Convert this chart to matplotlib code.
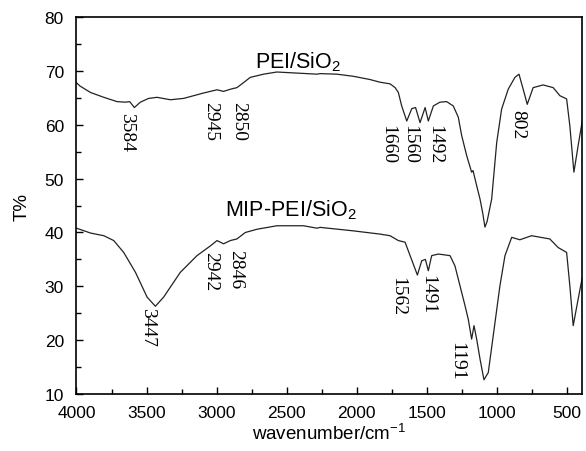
import matplotlib
matplotlib.use("Agg")
import matplotlib.pyplot as plt
from matplotlib.ticker import MultipleLocator

plt.rcParams['font.family'] = ['Liberation Sans', 'DejaVu Sans']
plt.rcParams['mathtext.fontset'] = 'custom'
plt.rcParams['mathtext.rm'] = 'Liberation Sans'
plt.rcParams['mathtext.default'] = 'regular'

# PEI/SiO2 spectrum
pei_wn = [4000, 3975, 3950, 3900, 3805, 3710, 3651, 3620, 3587, 3544, 3485, 3425,
          3330, 3235, 3093, 2997, 2950, 2902, 2855, 2819, 2760, 2665, 2570, 2427,
          2284, 2261, 2142, 2023, 1905, 1833, 1762, 1726, 1703, 1679, 1643, 1607,
          1580, 1548, 1512, 1489, 1453, 1406, 1358, 1311, 1275, 1251, 1215, 1180,
          1170, 1144, 1120, 1100, 1085, 1070, 1037, 1001, 966, 919, 871, 842, 812,
          783, 741, 670, 598, 550, 502, 479, 450, 420, 384]
pei_t = [67.8, 67.2, 66.8, 66.0, 65.1, 64.3, 64.2, 64.3, 63.2, 64.2, 64.9, 65.1,
         64.65, 64.9, 65.9, 66.5, 66.2, 66.6, 66.9, 67.6, 68.8, 69.4, 69.8, 69.6,
         69.4, 69.5, 69.4, 69.0, 68.4, 67.9, 67.6, 66.9, 66.0, 63.5, 60.7, 63.0,
         63.2, 60.4, 63.2, 60.7, 63.5, 64.2, 64.3, 63.5, 61.4, 58.0, 54.25, 51.2,
         51.5, 48.7, 46.2, 43.5, 41.0, 42.0, 46.2, 56.7, 62.9, 66.6, 68.8, 69.4, 66.6,
         63.8, 66.9, 67.4, 66.9, 65.4, 64.8, 59.8, 51.2, 56.1, 61.7]

# MIP-PEI/SiO2 spectrum
mip_wn = [4000, 3900, 3805, 3734, 3663, 3579, 3496, 3437, 3378, 3259, 3140, 3045,
          2997, 2950, 2902, 2855, 2795, 2712, 2570, 2380, 2284, 2261, 2023, 1833,
          1762, 1703, 1655, 1619, 1567, 1536, 1510, 1489, 1465, 1417, 1334, 1299,
          1263, 1227, 1204, 1180, 1163, 1144, 1120, 1092, 1061, 1026, 978, 942, 894,
          836, 752, 622, 562, 502, 479, 455, 420, 390]
mip_t = [40.8, 39.9, 39.4, 38.5, 36.3, 32.6, 28.0, 26.3, 28.0, 32.6, 35.7, 37.5,
         38.5, 37.9, 38.5, 38.8, 40.0, 40.6, 41.25, 41.25, 40.8, 40.95, 40.3, 39.7,
         39.4, 38.5, 38.2, 35.7, 32.1, 34.75, 35.0, 32.9, 35.7, 36.0, 35.7, 33.8,
         30.1, 26.4, 23.9, 20.2, 22.7, 20.2, 16.5, 12.65, 14.0, 20.8, 30.1, 35.7, 39.1,
         38.65, 39.4, 38.8, 37.2, 36.3, 30.1, 22.7, 27.6, 31.7]

# peak labels: text, x, top y
pei_peaks = ["3584", "2945", "2850", "1660", "1560", "1492", "802"]
pei_peak_x = [3644, 3045, 2845, 1776, 1619, 1441, 850]
pei_peak_y = [62.4, 64.4, 64.4, 60.1, 60.1, 60.1, 62.9]
mip_peaks = ["3447", "2942", "2846", "1562", "1491", "1191"]
mip_peak_x = [3494, 3045, 2867, 1705, 1491, 1284]
mip_peak_y = [26.2, 36.6, 36.9, 31.9, 32.3, 19.8]

fig = plt.figure(figsize=(5.86, 4.52), dpi=100)
ax = fig.add_axes([0.1305, 0.126, 0.8625, 0.834])

ax.plot(pei_wn, pei_t, color='#222222', lw=0.9)
ax.plot(mip_wn, mip_t, color='#222222', lw=0.9)

for lab, x, y in zip(pei_peaks, pei_peak_x, pei_peak_y):
    ax.text(x, y, lab, rotation=270, ha='center', va='top',
            family='Liberation Serif', fontsize=14)
for lab, x, y in zip(mip_peaks, mip_peak_x, mip_peak_y):
    ax.text(x, y, lab, rotation=270, ha='center', va='top',
            family='Liberation Serif', fontsize=14)

ax.text(2420, 70.6, 'PEI/SiO$_2$', ha='center', va='baseline', fontsize=15.5)
ax.text(2470, 43.1, 'MIP-PEI/SiO$_2$', ha='center', va='baseline', fontsize=15.5)

ax.set_xlim(4000, 393)
ax.set_ylim(10, 80)
ax.xaxis.set_major_locator(MultipleLocator(500))
ax.xaxis.set_minor_locator(MultipleLocator(250))
ax.yaxis.set_major_locator(MultipleLocator(10))
ax.yaxis.set_minor_locator(MultipleLocator(5))
ax.tick_params(which='both', direction='in', top=False, right=False,
               labelsize=12.5, width=1)
ax.tick_params(which='major', length=5)
ax.tick_params(which='minor', length=3.5)
ax.tick_params(axis='x', pad=8)
ax.tick_params(axis='y', pad=9)
for s in ax.spines.values():
    s.set_linewidth(1.2)

ax.set_xlabel('wavenumber/cm$^{-1}$', fontsize=13.5, labelpad=2)
ax.set_ylabel('T%', fontsize=13.5, labelpad=10)

fig.savefig('out.png', dpi=100)
